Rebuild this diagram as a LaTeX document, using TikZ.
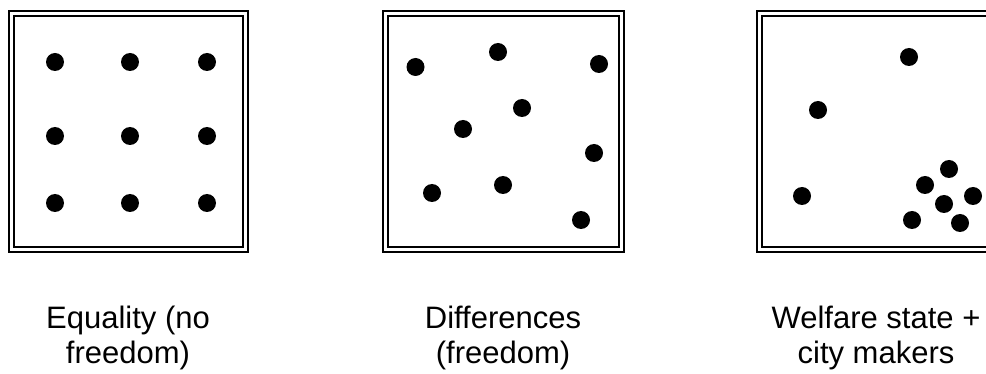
\documentclass[tikz,border=0pt]{standalone}
\usepackage{fontspec}
\setmainfont{Liberation Sans}
\tikzset{
    panel frame/.style={draw=black, line width=2pt, double=white, double distance=3pt},
    person dot/.style={fill=black},
    panel label/.style={
        font=\fontsize{31}{35}\selectfont,
        align=center,
        anchor=north,
        inner sep=0pt
    }
}

\begin{document}
\begin{tikzpicture}[x=1pt,y=-1pt]
    \useasboundingbox(0,0)rectangle(986,374);
    \clip(0,0)rectangle(986,374);

    % frames
    \draw[panel frame](11,14)rectangle++(234,236);
    \draw[panel frame](385.5,14)rectangle++(235.5,236);
    \draw[panel frame](759,14)rectangle++(235,236);

    % equality: regular grid
    \foreach \x in {55,130,207}
        \foreach \y in {62,136,203}
            \fill[person dot](\x,\y)circle(9pt);

    % differences: scattered
    \foreach \p in {(415.5,67),(498,52),(599,64),(522,108),(463,129),
                    (594,153),(432,193),(503,185),(581,220)}
        \fill[person dot]\p circle(9pt);

    % welfare state: some grouped
    \foreach \p in {(909,57),(818,110),(802,196),(949,169),(925,185),
                    (973,196),(944,204),(912,220),(960,223)}
        \fill[person dot]\p circle(9pt);

    \node[panel label](equality)at(128,305.5){Equality (no\\freedom)};
    \node[panel label](differences)at(503,305.5){Differences\\(freedom)};
    \node[panel label](welfare)at(876,305.5){Welfare state +\\city makers};
\end{tikzpicture}
\end{document}
